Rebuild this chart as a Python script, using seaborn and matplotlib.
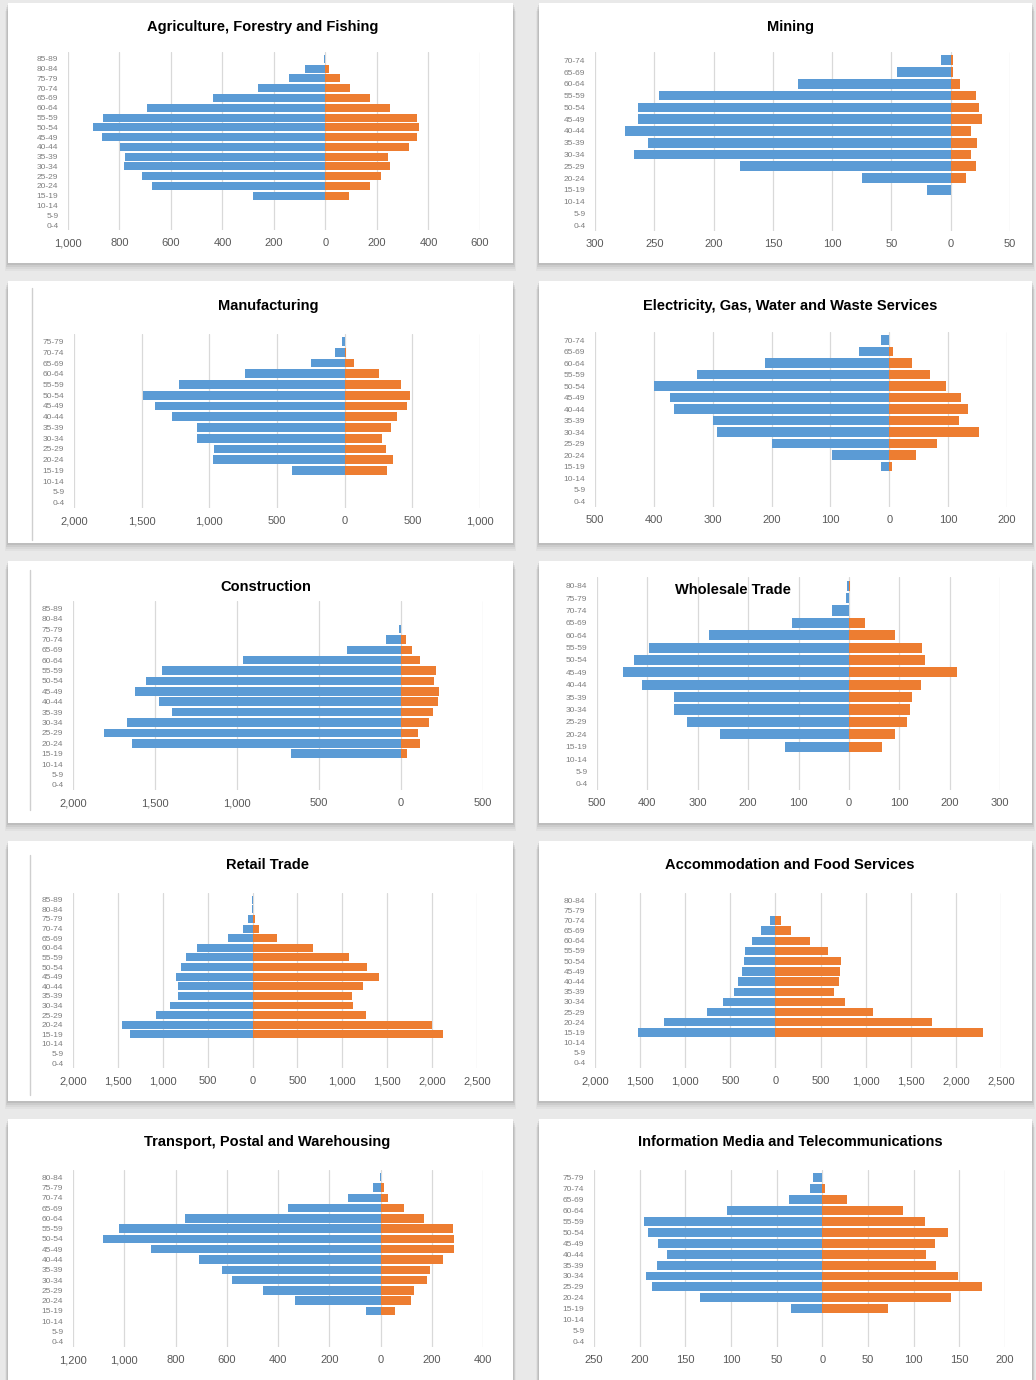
import numpy as np
import pandas as pd
import matplotlib
matplotlib.use('Agg')
import matplotlib.pyplot as plt
from matplotlib.patches import Rectangle
from matplotlib.ticker import FuncFormatter
import seaborn as sns

# Age groups, youngest first; each panel uses the bottom n of them, oldest at top
AGE_GROUPS = ['0-4', '5-9', '10-14', '15-19', '20-24', '25-29', '30-34', '35-39',
              '40-44', '45-49', '50-54', '55-59', '60-64', '65-69', '70-74',
              '75-79', '80-84', '85-89']

# values listed oldest -> youngest (top -> bottom)
agri_m = [5, 81, 142, 262, 436, 694, 865, 903, 868, 797, 778, 783, 713, 675, 280, 0, 0, 0]
agri_f = [0, 15, 55, 97, 172, 249, 355, 364, 355, 323, 243, 252, 215, 174, 90, 0, 0, 0]

mining_m = [8, 45, 129, 246, 264, 264, 275, 255, 267, 178, 75, 20, 0, 0, 0]
mining_f = [2, 2, 8, 21, 24, 26, 17, 22, 17, 21, 13, 0, 0, 0, 0]

manuf_m = [17, 74, 251, 738, 1225, 1493, 1402, 1274, 1090, 1090, 967, 972, 391, 0, 0, 0]
manuf_f = [0, 10, 66, 253, 413, 485, 460, 389, 344, 278, 303, 357, 315, 0, 0, 0]

elec_m = [14, 51, 211, 326, 400, 373, 366, 300, 292, 199, 97, 14, 0, 0, 0]
elec_f = [0, 6, 38, 69, 96, 122, 134, 118, 153, 81, 46, 5, 0, 0, 0]

constr_m = [0, 0, 10, 92, 327, 963, 1459, 1557, 1622, 1473, 1398, 1673, 1810, 1639, 673, 0, 0, 0]
constr_f = [0, 0, 0, 30, 65, 118, 214, 204, 229, 224, 194, 169, 106, 118, 37, 0, 0, 0]

whole_m = [3, 5, 33, 113, 278, 397, 426, 449, 411, 348, 348, 321, 255, 127, 0, 0, 0]
whole_f = [3, 0, 0, 32, 91, 146, 151, 215, 144, 126, 121, 115, 91, 66, 0, 0, 0]

retail_m = [3, 3, 48, 112, 271, 617, 743, 792, 848, 836, 836, 914, 1071, 1453, 1368, 0, 0, 0]
retail_f = [0, 0, 26, 74, 268, 669, 1078, 1271, 1413, 1234, 1104, 1123, 1264, 1996, 2126, 0, 0, 0]

accom_m = [0, 3, 55, 155, 255, 340, 347, 369, 413, 458, 579, 764, 1236, 1520, 0, 0, 0]
accom_f = [0, 0, 66, 177, 380, 583, 731, 720, 705, 646, 775, 1081, 1738, 2299, 0, 0, 0]

transp_m = [3, 29, 128, 362, 764, 1020, 1081, 896, 710, 618, 579, 460, 332, 55, 0, 0, 0]
transp_f = [0, 13, 28, 90, 171, 281, 285, 288, 244, 192, 181, 129, 119, 58, 0, 0, 0]

info_m = [10, 13, 36, 104, 195, 191, 180, 170, 181, 193, 187, 134, 34, 0, 0, 0]
info_f = [0, 3, 27, 88, 112, 138, 123, 113, 124, 148, 175, 141, 72, 0, 0, 0]

TITLES = ['Agriculture, Forestry and Fishing', 'Mining', 'Manufacturing',
          'Electricity, Gas, Water and Waste Services', 'Construction',
          'Wholesale Trade', 'Retail Trade', 'Accommodation and Food Services',
          'Transport, Postal and Warehousing', 'Information Media and Telecommunications']
MALES = [agri_m, mining_m, manuf_m, elec_m, constr_m, whole_m, retail_m, accom_m, transp_m, info_m]
FEMALES = [agri_f, mining_f, manuf_f, elec_f, constr_f, whole_f, retail_f, accom_f, transp_f, info_f]
# x axis (min, max, step)
XRANGES = [(-1000, 600, 200), (-300, 50, 50), (-2000, 1000, 500), (-500, 200, 100),
           (-2000, 500, 500), (-500, 300, 100), (-2000, 2500, 500), (-2000, 2500, 500),
           (-1200, 400, 200), (-250, 200, 50)]

BLUE = '#5b9bd5'
ORANGE = '#ed7d31'
W, H = 1036, 1380

sns.set_theme(style='white')
plt.rcParams['font.family'] = ['Liberation Sans', 'DejaVu Sans']

fig = plt.figure(figsize=(W / 100, H / 100), dpi=100, facecolor='#e9e9e9')

def fx(x):
    return x / W

def fy(y):
    return 1 - y / H

# cards (pixel boxes)
col_x = [(8, 513), (539, 1032)]
row_y = [(3, 263), (281, 543), (561, 823), (841, 1101), (1119, 1380)]
for (t, b) in row_y:
    for (l, r) in col_x:
        for k, a in zip([8, 6, 4, 2], [0.03, 0.04, 0.05, 0.07]):
            fig.patches.append(Rectangle((fx(l - k * 0.4), fy(b + k)), fx(r - l + k * 0.8), (b - t) / H,
                                         transform=fig.transFigure, facecolor='#000000',
                                         alpha=a, edgecolor='none', zorder=0))
        fig.patches.append(Rectangle((fx(l), fy(b)), fx(r - l), (b - t) / H,
                                     transform=fig.transFigure, facecolor='white',
                                     edgecolor='none', zorder=1))

# faint left edge lines seen on some cards
for (x, t, b) in [(32, 288, 540), (30, 570, 810), (30, 855, 1095)]:
    fig.lines.append(plt.Line2D([fx(x), fx(x)], [fy(t), fy(b)], transform=fig.transFigure,
                                color='#cfcfcf', lw=1, zorder=2))

# plot areas (left, top, right, bottom) and title positions
AX_BOXES = [(68, 52, 480, 230), (595, 52, 1010, 231), (74, 334, 480, 508), (595, 332, 1007, 507),
            (73, 601, 483, 790), (597, 577, 1000, 790), (73, 893, 477, 1068), (595, 893, 1001, 1068),
            (73, 1170, 483, 1347), (594, 1170, 1005, 1347)]
TITLE_POS = [(263, 27), (790, 27), (268, 306), (790, 306), (266, 587), (733, 590),
             (267, 865), (790, 865), (267, 1142), (790, 1142)]

fmt = FuncFormatter(lambda v, p: f'{abs(int(round(v))):,}')

for i in range(10):
    males = MALES[i]
    females = FEMALES[i]
    n = len(males)
    ages = AGE_GROUPS[:n][::-1]
    df = pd.DataFrame({
        'age': ages * 2,
        'sex': ['Male'] * n + ['Female'] * n,
        'value': [-v for v in males] + list(females),
    })
    l, t, r, b = AX_BOXES[i]
    ax = fig.add_axes([fx(l), fy(b), fx(r - l), (b - t) / H])
    ax.set_zorder(3)
    ax.patch.set_alpha(0)
    sns.barplot(data=df, x='value', y='age', hue='sex', order=ages,
                hue_order=['Male', 'Female'], palette=[BLUE, ORANGE],
                dodge=False, orient='h', width=0.82, saturation=1,
                errorbar=None, legend=False, linewidth=0, ax=ax)
    xmin, xmax, step = XRANGES[i]
    ax.set_xlim(xmin, xmax)
    ax.set_xticks(np.arange(xmin, xmax + step, step))
    ax.xaxis.set_major_formatter(fmt)
    ax.set_ylim(n - 0.5, -0.7)
    ax.grid(axis='x', color='#d9d9d9', lw=0.9)
    ax.grid(axis='y', visible=False)
    ax.set_axisbelow(True)
    for s in ax.spines.values():
        s.set_visible(False)
    ax.set_xlabel('')
    ax.set_ylabel('')
    ax.tick_params(axis='x', length=0, labelsize=8, colors='#595959', pad=6)
    ax.tick_params(axis='y', length=0, labelsize=6, colors='#7f7f7f', pad=7)
    tx, ty = TITLE_POS[i]
    fig.text(fx(tx), fy(ty), TITLES[i], ha='center', va='center', fontsize=10.5,
             fontweight='bold', color='black', zorder=5)

fig.savefig('out.png', dpi=100, facecolor=fig.get_facecolor())
